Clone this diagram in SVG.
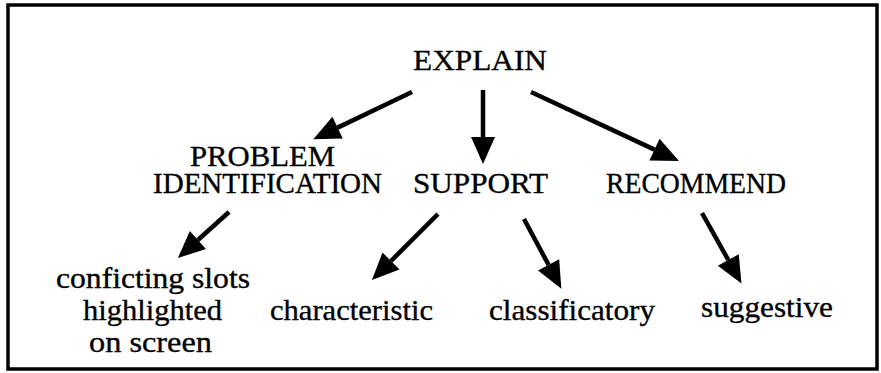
<svg xmlns="http://www.w3.org/2000/svg" width="881" height="373" viewBox="0 0 881 373">
<style>
text{font-family:"Liberation Serif","Times New Roman",serif;font-size:30px;fill:#000;stroke:#000;stroke-width:0.35}
.c{stroke:#000;stroke-width:4.5;fill:none}
</style>
<defs>
<marker id="ah" markerUnits="userSpaceOnUse" markerWidth="30" markerHeight="28" viewBox="0 -14 28 28" refX="0" refY="0" orient="auto">
<path d="M0,-12 L27,0 L0,12 Z" fill="#000"/>
</marker>
</defs>
<rect x="8" y="5" width="869" height="364" fill="#fff" stroke="#000" stroke-width="3.5"/>
<g id="explain"><text x="413" y="70" textLength="134" lengthAdjust="spacingAndGlyphs">EXPLAIN</text></g>
<g id="problem"><text x="190" y="166" textLength="145" lengthAdjust="spacingAndGlyphs">PROBLEM</text><text x="153" y="193" textLength="229" lengthAdjust="spacingAndGlyphs">IDENTIFICATION</text></g>
<g id="support"><text x="413" y="193" textLength="135" lengthAdjust="spacingAndGlyphs">SUPPORT</text></g>
<g id="recommend"><text x="606" y="193" textLength="180" lengthAdjust="spacingAndGlyphs">RECOMMEND</text></g>
<g id="conflicting"><text x="56" y="288" textLength="194" lengthAdjust="spacingAndGlyphs">conficting slots</text><text x="83" y="320" textLength="139" lengthAdjust="spacingAndGlyphs">highlighted</text><text x="89" y="352" textLength="123" lengthAdjust="spacingAndGlyphs">on screen</text></g>
<g id="characteristic"><text x="270" y="320" textLength="163" lengthAdjust="spacingAndGlyphs">characteristic</text></g>
<g id="classificatory"><text x="489" y="320" textLength="166" lengthAdjust="spacingAndGlyphs">classificatory</text></g>
<g id="suggestive"><text x="701" y="317" textLength="132" lengthAdjust="spacingAndGlyphs">suggestive</text></g>
<g id="connectors">
<line class="c" x1="412" y1="92" x2="337.6" y2="127.6" marker-end="url(#ah)"/>
<line class="c" x1="483" y1="90" x2="483" y2="137" marker-end="url(#ah)"/>
<line class="c" x1="531" y1="92" x2="654.5" y2="149.6" marker-end="url(#ah)"/>
<line class="c" x1="229" y1="212" x2="197.9" y2="240" marker-end="url(#ah)"/>
<line class="c" x1="438" y1="214" x2="391" y2="261" marker-end="url(#ah)"/>
<line class="c" x1="524" y1="219" x2="548.6" y2="264.9" marker-end="url(#ah)"/>
<line class="c" x1="702" y1="213" x2="728.3" y2="260" marker-end="url(#ah)"/>
</g>
</svg>
